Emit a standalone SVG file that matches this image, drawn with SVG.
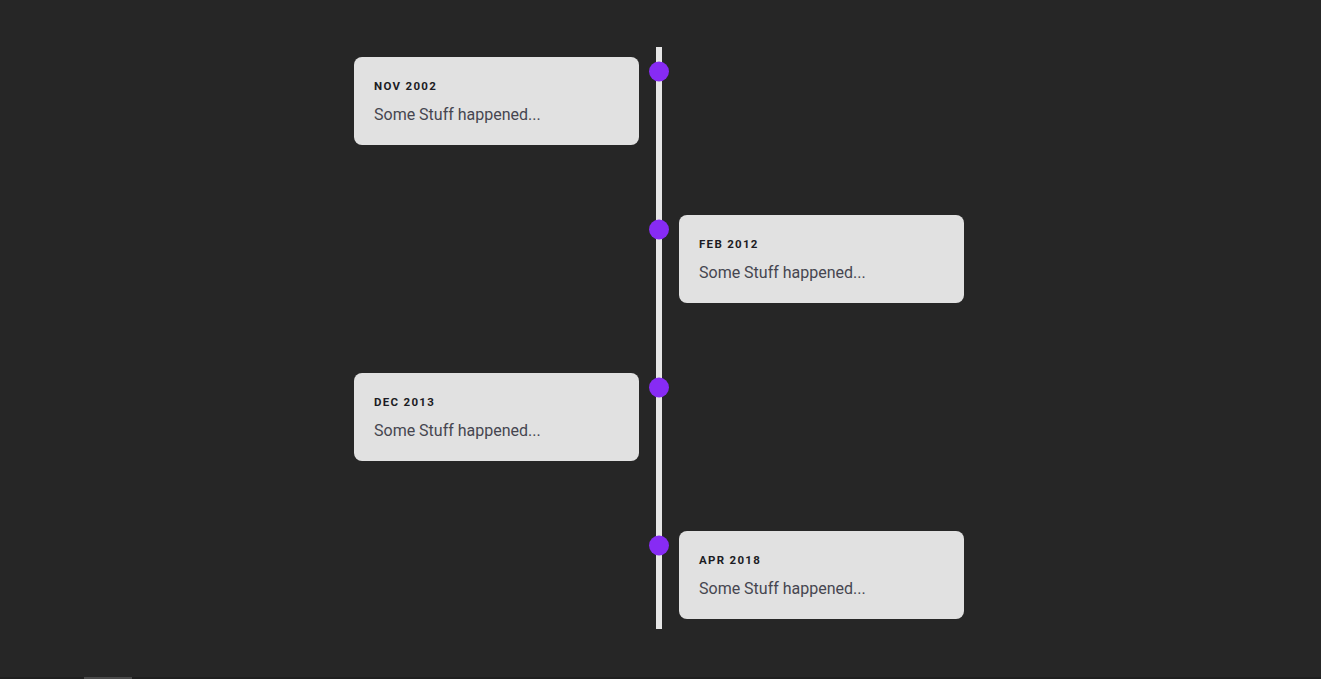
<svg xmlns="http://www.w3.org/2000/svg" width="1321" height="679" viewBox="0 0 1321 679">
<style>
.card{fill:#e1e1e1}
.date{font-family:Roboto,"Liberation Sans",sans-serif;font-size:11.5px;font-weight:700;letter-spacing:1.3px;fill:#1c1c24}
.body{font-family:Roboto,"Liberation Sans",sans-serif;font-size:16px;fill:#464650}
.dot{fill:#872bf4}
</style>
<rect width="1321" height="679" fill="#262626"/>
<rect x="0" y="677" width="1321" height="2" fill="#1f1f1f"/>
<rect x="84" y="677" width="48" height="2" fill="#4a4a4a"/>
<g id="connectors">
<rect x="656" y="47" width="6" height="582" fill="#e6e6e6"/>
</g>
<g id="node1">
<rect class="card" x="354" y="57" width="285" height="88" rx="8"/>
<text class="date" x="374" y="90">NOV 2002</text>
<text class="body" x="374" y="120">Some Stuff happened...</text>
<circle class="dot" cx="659" cy="71.5" r="10"/>
</g>
<g id="node2">
<rect class="card" x="679" y="215" width="285" height="88" rx="8"/>
<text class="date" x="699" y="248">FEB 2012</text>
<text class="body" x="699" y="278">Some Stuff happened...</text>
<circle class="dot" cx="659" cy="229.5" r="10"/>
</g>
<g id="node3">
<rect class="card" x="354" y="373" width="285" height="88" rx="8"/>
<text class="date" x="374" y="406">DEC 2013</text>
<text class="body" x="374" y="436">Some Stuff happened...</text>
<circle class="dot" cx="659" cy="387.5" r="10"/>
</g>
<g id="node4">
<rect class="card" x="679" y="531" width="285" height="88" rx="8"/>
<text class="date" x="699" y="564">APR 2018</text>
<text class="body" x="699" y="594">Some Stuff happened...</text>
<circle class="dot" cx="659" cy="545.5" r="10"/>
</g>
</svg>
